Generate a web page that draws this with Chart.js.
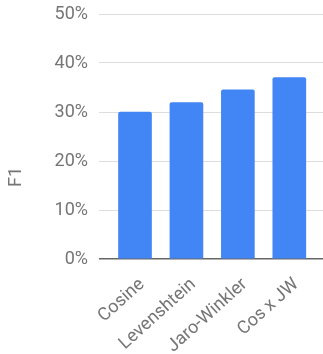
<!DOCTYPE html>
<html>
<head>
<meta charset="utf-8">
<script src="https://cdn.jsdelivr.net/npm/chart.js@4"></script>
<style>
html,body{margin:0;padding:0;background:#fff;}
#wrap{position:relative;width:323px;height:354px;}
</style>
</head>
<body>
<div id="wrap"><canvas id="c"></canvas></div>
<script>
const categories = ["Cosine", "Levenshtein", "Jaro-Winkler", "Cos x JW"];
const f1Values = [30.0, 31.9, 34.5, 37.0];
const yTicks = [0, 10, 20, 30, 40, 50];
const yTitle = "F1";

const FONT = "Roboto, 'Liberation Sans', sans-serif";

new Chart(document.getElementById('c'), {
  type: 'bar',
  data: {
    datasets: [{
      data: f1Values.map((v, i) => ({x: i, y: v})),
      backgroundColor: '#4285f4',
      borderRadius: 2,
      borderSkipped: 'bottom',
      barThickness: 33
    }]
  },
  options: {
    responsive: true,
    maintainAspectRatio: false,
    animation: false,
    layout: {padding: {left: 0, right: 0, top: 0, bottom: 0}},
    plugins: {
      legend: {display: false},
      tooltip: {enabled: false},
      title: {
        display: true,
        text: yTitle,
        position: 'left',
        fullSize: true,
        color: '#757575',
        font: {family: FONT, size: 18, weight: 'normal', lineHeight: '20px'},
        padding: {top: 6, bottom: 0}
      }
    },
    scales: {
      x: {
        type: 'linear',
        offset: false,
        min: -0.70,
        max: 3.655,
        afterBuildTicks: (s) => { s.ticks = categories.map((_, i) => ({value: i})); },
        afterFit: (s) => { s.height = 95; },
        grid: {display: false, drawTicks: false, offset: false},
        border: {display: false},
        ticks: {
          autoSkip: false,
          minRotation: 42,
          maxRotation: 42,
          padding: 15,
          labelOffset: 7,
          color: '#757575',
          font: {family: FONT, size: 18},
          callback: (v) => categories[v]
        }
      },
      y: {
        min: yTicks[0],
        max: yTicks[yTicks.length - 1],
        afterBuildTicks: (s) => { s.ticks = yTicks.map(v => ({value: v})); },
        afterFit: (s) => { s.width = 73; s.paddingTop = 14; },
        border: {display: false},
        grid: {
          drawTicks: false,
          color: (ctx) => ctx.tick && ctx.tick.value === 0 ? '#666666' : '#dddddd',
          lineWidth: (ctx) => ctx.tick && ctx.tick.value === 0 ? 1.5 : 1
        },
        ticks: {
          padding: 11,
          color: '#757575',
          font: {family: FONT, size: 18},
          callback: (v) => v + '%'
        }
      }
    }
  }
});
</script>
</body>
</html>
